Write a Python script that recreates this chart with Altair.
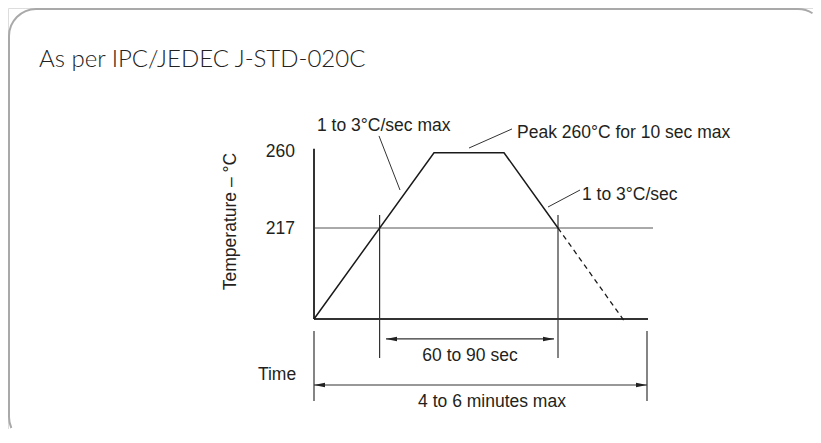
import altair as alt
import pandas as pd
import math

# ---------------- data (time in s, temperature in degC; schematic values)
profile_time = [0, 60, 95, 122]
profile_temp = [165, 260, 260, 217]
cooling_time = [122, 155.5]
cooling_temp = [217, 163.3]

tick_temps = [260, 217]
tick_labels = ["260", "217"]

# solid guide lines: t, t2, T, T2
axis_t = [0, 0]
axis_t2 = [0, 167]
axis_T = [165, 165]
axis_T2 = [262.3, 165]

liquidus_t = [0]
liquidus_t2 = [169.5]
liquidus_T = [217]

marker_t = [32.8, 122, 0, 166.5]
marker_T = [224.4, 224.4, 158.1, 158.1]
marker_T2 = [142.7, 142.7, 118.1, 118.1]

leader_t = [32.5, 99, 133]
leader_t2 = [43, 77.5, 117]
leader_T = [269.6, 273.6, 238.7]
leader_T2 = [238.7, 262.7, 229]

arrow_t = [36, 0]
arrow_t2 = [120, 166.5]
arrow_T = [153.6, 127.3]

# rounded panel border: straight edges and corner centres
edge_t = [-139, -152.5]
edge_t2 = [242, -152.5]
edge_T = [342.14, 326.7]
edge_T2 = [342.14, 109]
corner_t = [-139, -139, 242]
corner_T = [326.7, 109, 326.7]

left_texts = ["1 to 3°C/sec max", "Peak 260°C for 10 sec max", "1 to 3°C/sec"]
left_t = [1.5, 101.5, 134]
left_T = [272.4, 268.4, 233]

center_texts = ["60 to 90 sec", "Time", "4 to 6 minutes max"]
center_t = [78, -18.5, 89]
center_T = [141, 130.1, 114.9]

title_text = ["As per IPC/JEDEC J-STD-020C"]
title_t = [-137.5]
title_T = [309]

ylabel_text = ["Temperature  – °C"]
ylabel_t = [-39]
ylabel_T = [220.7]

tick_label_t = -9.5
tick_label_T = [257.6, 213.6]

# ---------------- layout
W, H = 805, 421
X0 = 306          # chart px of t = 0
Y217 = 220        # chart px of 217 degC
PXS = 2.0         # px per second
PXD = 1.75        # px per degC
xdom = [-X0 / PXS, (W - X0) / PXS]
ydom = [217 - (H - Y217) / PXD, 217 + Y217 / PXD]
xs = alt.Scale(domain=xdom, zero=False, nice=False)
ys = alt.Scale(domain=ydom, zero=False, nice=False)

def X(f):
    return alt.X(f, type="quantitative", scale=xs, axis=None)

def Y(f):
    return alt.Y(f, type="quantitative", scale=ys, axis=None)

FONT = "Liberation Sans"
TXT = "#231f20"
BORDER = "#a9a9a9"

edges = alt.Chart(pd.DataFrame({"t": edge_t, "t2": edge_t2, "T": edge_T, "T2": edge_T2})).mark_rule(
    color=BORDER, strokeWidth=2
).encode(x=X("t"), x2="t2", y=Y("T"), y2="T2")

PI = math.pi
R = 27
# visible angular spans of the corners (the panel runs past the page edges)
tr_end = math.asin((W - (X0 + corner_t[2] * PXS)) / R) - 0.02
bl_start = 2 * PI - math.acos(-((H - 1) - (Y217 + (217 - corner_T[1]) * PXD)) / R)
spans = [(1.5 * PI, 2 * PI), (bl_start, 1.5 * PI), (0, tr_end)]
corner_layers = []
for i, (a0, a1) in enumerate(spans):
    corner_layers.append(
        alt.Chart(pd.DataFrame({"t": [corner_t[i]], "T": [corner_T[i]]})).mark_arc(
            theta=a0, theta2=a1, radius=R + 1, radius2=R - 1, color=BORDER
        ).encode(x=X("t"), y=Y("T"))
    )

axes = alt.Chart(pd.DataFrame({"t": axis_t, "t2": axis_t2, "T": axis_T, "T2": axis_T2})).mark_rule(
    color="#333333", strokeWidth=2
).encode(x=X("t"), x2="t2", y=Y("T"), y2="T2")

liquidus = alt.Chart(pd.DataFrame({"t": liquidus_t, "t2": liquidus_t2, "T": liquidus_T})).mark_rule(
    color="#555555", strokeWidth=1
).encode(x=X("t"), x2="t2", y=Y("T"))

markers = alt.Chart(pd.DataFrame({"t": marker_t, "T": marker_T, "T2": marker_T2})).mark_rule(
    color="#333333", strokeWidth=1.2
).encode(x=X("t"), y=Y("T"), y2="T2")

leaders = alt.Chart(pd.DataFrame({"t": leader_t, "t2": leader_t2, "T": leader_T, "T2": leader_T2})).mark_rule(
    color="#333333", strokeWidth=1
).encode(x=X("t"), x2="t2", y=Y("T"), y2="T2")

arrows = alt.Chart(pd.DataFrame({"t": arrow_t, "t2": arrow_t2, "T": arrow_T})).mark_rule(
    color="#333333", strokeWidth=1.2
).encode(x=X("t"), x2="t2", y=Y("T"))

heads_left = alt.Chart(pd.DataFrame({"t": arrow_t, "T": arrow_T})).mark_point(
    shape="M0,0L1,-0.2L1,0.2Z", filled=True, size=484, color="#222222", opacity=1, strokeWidth=0
).encode(x=X("t"), y=Y("T"))

heads_right = alt.Chart(pd.DataFrame({"t": arrow_t2, "T": arrow_T})).mark_point(
    shape="M0,0L-1,-0.2L-1,0.2Z", filled=True, size=484, color="#222222", opacity=1, strokeWidth=0
).encode(x=X("t"), y=Y("T"))

profile = alt.Chart(pd.DataFrame({"t": profile_time, "T": profile_temp})).mark_line(
    color="#1a1a1a", strokeWidth=1.5
).encode(x=X("t"), y=Y("T"))

cooling = alt.Chart(pd.DataFrame({"t": cooling_time, "T": cooling_temp})).mark_line(
    color="#1a1a1a", strokeWidth=1.3, strokeDash=[5, 4]
).encode(x=X("t"), y=Y("T"))

left_txt = alt.Chart(pd.DataFrame({"t": left_t, "T": left_T, "s": left_texts})).mark_text(
    align="left", baseline="alphabetic", font=FONT, fontSize=17.5, color=TXT
).encode(x=X("t"), y=Y("T"), text="s:N")

center_txt = alt.Chart(pd.DataFrame({"t": center_t, "T": center_T, "s": center_texts})).mark_text(
    align="center", baseline="alphabetic", font=FONT, fontSize=17.5, color=TXT
).encode(x=X("t"), y=Y("T"), text="s:N")

ticks_txt = alt.Chart(pd.DataFrame({"t": [tick_label_t] * len(tick_labels), "T": tick_label_T, "s": tick_labels})).mark_text(
    align="right", baseline="alphabetic", font=FONT, fontSize=17.5, color=TXT
).encode(x=X("t"), y=Y("T"), text="s:N")

ylabel = alt.Chart(pd.DataFrame({"t": ylabel_t, "T": ylabel_T, "s": ylabel_text})).mark_text(
    align="center", baseline="alphabetic", angle=270, font=FONT, fontSize=17.5, color=TXT
).encode(x=X("t"), y=Y("T"), text="s:N")

title = alt.Chart(pd.DataFrame({"t": title_t, "T": title_T, "s": title_text})).mark_text(
    align="left", baseline="alphabetic", font="Lato", fontWeight=300, fontSize=24, color="#222222"
).encode(x=X("t"), y=Y("T"), text="s:N")

chart = alt.layer(
    edges, *corner_layers, liquidus, axes, markers, leaders, arrows, heads_left, heads_right,
    profile, cooling, left_txt, center_txt, ticks_txt, ylabel, title
).properties(
    width=W, height=H, padding=0, autosize=alt.AutoSizeParams(type="none")
).configure_view(strokeWidth=0, stroke="transparent").configure(background="white")

chart.save("out.html", embed_options={"renderer": "svg", "actions": False})
